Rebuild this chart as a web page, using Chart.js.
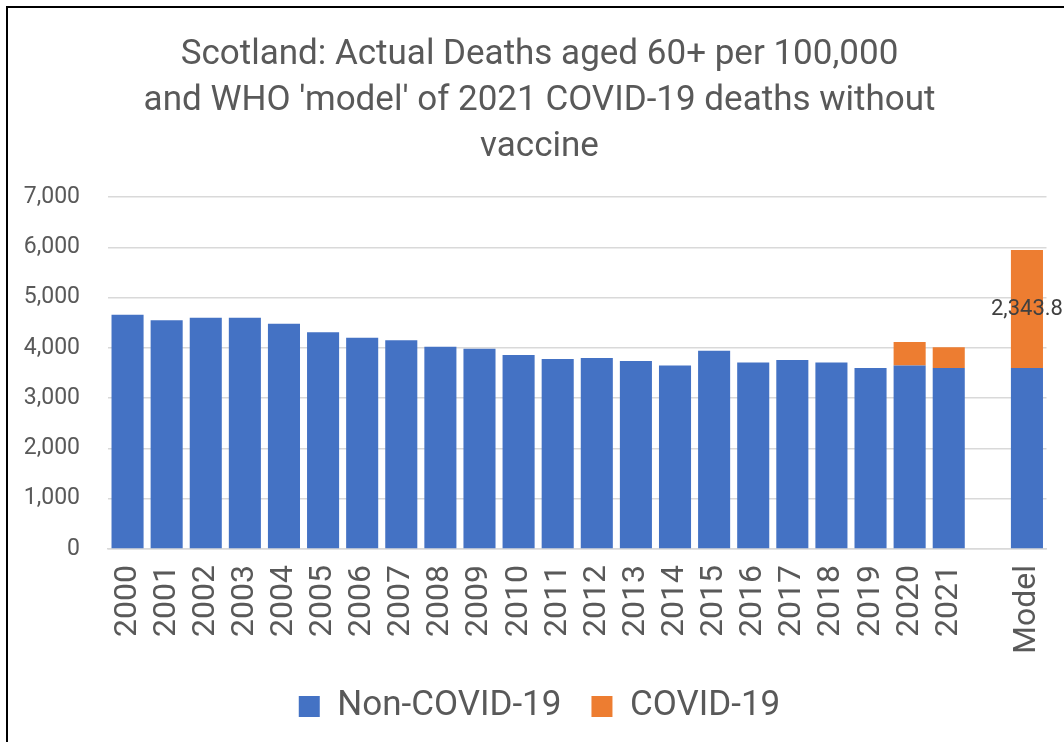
<!DOCTYPE html>
<html>
<head>
<meta charset="utf-8">
<script src="https://cdn.jsdelivr.net/npm/chart.js@4.4.0/dist/chart.umd.min.js"></script>
<style>
  html, body { margin: 0; padding: 0; background: #fff; overflow: hidden; }
  #wrap { position: relative; width: 1064px; height: 742px; }
  #frame { position: absolute; left: 6px; top: 6px; width: 2000px; height: 2000px;
           border-left: 2px solid #000; border-top: 2px solid #000; pointer-events: none; }
</style>
</head>
<body>
<div id="wrap">
  <canvas id="deaths" width="1064" height="742"></canvas>
  <div id="frame"></div>
</div>
<script>
// values (deaths aged 60+ per 100,000)
const years = ['2000', '2001', '2002', '2003', '2004', '2005', '2006', '2007', '2008', '2009',
               '2010', '2011', '2012', '2013', '2014', '2015', '2016', '2017', '2018', '2019',
               '2020', '2021', '', 'Model'];
const nonCovid = [4660, 4550, 4600, 4600, 4480, 4310, 4200, 4150, 4020, 3980,
                  3860, 3780, 3800, 3740, 3650, 3940, 3710, 3760, 3710, 3600,
                  3650, 3600, null, 3600];
const covid = [null, null, null, null, null, null, null, null, null, null,
               null, null, null, null, null, null, null, null, null, null,
               465, 410, null, 2343.8];
const yTicks = [0, 1000, 2000, 3000, 4000, 5000, 6000, 7000];

const FONT = 'Roboto, "Open Sans", sans-serif';
const GREY = '#595959';

// label only on the model's COVID segment
const modelLabel = {
    id: 'modelLabel',
    afterDatasetsDraw(chart) {
        const meta = chart.getDatasetMeta(1);
        const i = years.indexOf('Model');
        const bar = meta.data[i];
        if (!bar) return;
        const c = chart.ctx;
        c.save();
        c.font = '22px ' + FONT;
        c.fillStyle = '#404040';
        c.textAlign = 'center';
        c.textBaseline = 'middle';
        c.fillText(covid[i].toLocaleString('en-US', { minimumFractionDigits: 1 }), bar.x, (bar.y + bar.base) / 2);
        c.restore();
    }
};

const ctx = document.getElementById('deaths').getContext('2d');

const deathsChart = new Chart(ctx, {
    type: 'bar',
    data: {
        labels: years,
        datasets: [{
            label: 'Non-COVID-19',
            data: nonCovid,
            backgroundColor: '#4472C4',
            barPercentage: 0.82,
            categoryPercentage: 1.0
        }, {
            label: 'COVID-19',
            data: covid,
            backgroundColor: '#ED7D31',
            barPercentage: 0.82,
            categoryPercentage: 1.0
        }]
    },
    options: {
        responsive: false,
        animation: false,
        layout: {
            padding: { left: 18, right: 3, top: 32, bottom: 8 }
        },
        plugins: {
            title: {
                display: true,
                text: ['Scotland: Actual Deaths aged 60+ per 100,000',
                       "and WHO 'model' of 2021 COVID-19 deaths without",
                       'vaccine'],
                color: GREY,
                font: { family: FONT, size: 35, weight: 'normal', lineHeight: 1.314 },
                padding: { top: 0, bottom: 27 }
            },
            legend: {
                position: 'bottom',
                labels: {
                    color: GREY,
                    font: { family: FONT, size: 35 },
                    boxWidth: 21,
                    boxHeight: 21,
                    padding: 30
                }
            },
            tooltip: { enabled: false }
        },
        scales: {
            x: {
                stacked: true,
                grid: { display: false, drawTicks: false },
                border: { color: '#d9d9d9', width: 1.5 },
                ticks: {
                    color: GREY,
                    font: { family: FONT, size: 32 },
                    minRotation: 90,
                    maxRotation: 90,
                    autoSkip: false,
                    padding: 16
                },
                afterFit(axis) {
                    axis.height = 110;
                    axis.paddingRight = 17.5;
                }
            },
            y: {
                stacked: true,
                min: 0,
                max: 7000,
                afterBuildTicks(axis) {
                    axis.ticks = yTicks.map(v => ({ value: v }));
                },
                grid: { color: '#d9d9d9', lineWidth: 1.5, drawTicks: false },
                border: { display: false },
                ticks: {
                    color: GREY,
                    font: { family: FONT, size: 23 },
                    padding: 28,
                    callback: v => v.toLocaleString('en-US')
                },
                afterFit(axis) { axis.width = 90; }
            }
        }
    },
    plugins: [modelLabel]
});
</script>
</body>
</html>
